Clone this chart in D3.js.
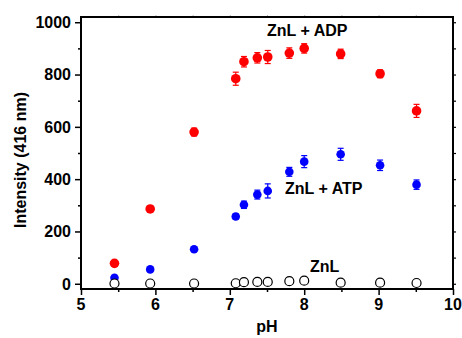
<!DOCTYPE html>
<html>
<head>
<meta charset="utf-8">
<script src="https://cdn.jsdelivr.net/npm/d3@7"></script>
<style>
  body { margin: 0; background: #fff; }
  text { font-family: Arial, "Liberation Sans", sans-serif; font-weight: bold; fill: #000; }
</style>
</head>
<body>
<svg id="chart" width="462" height="338"></svg>
<script>
// pH values (shared by all three series)
const phValues = [5.45, 5.93, 6.52, 7.08, 7.19, 7.37, 7.51, 7.80, 8.00, 8.49, 9.02, 9.51];

const adpValues = [78, 286, 580, 784, 849, 864, 867, 882, 900, 879, 803, 661];
const adpErrors = [8, 10, 15, 25, 20, 20, 25, 20, 18, 18, 15, 25];

const atpValues = [23, 55, 132, 257, 302, 341, 355, 428, 467, 495, 453, 379];
const atpErrors = [5, 6, 8, 10, 14, 17, 27, 17, 23, 23, 20, 18];

const znlValues = [1, 1, 1, 2, 6, 7, 7, 10, 12, 4, 4, 3];

const xTicks = [5, 6, 7, 8, 9, 10];
const yTicks = [0, 200, 400, 600, 800, 1000];

const svg = d3.select("#chart");

const x = d3.scaleLinear().domain([5, 10]).range([81, 453]);
const y = d3.scaleLinear().domain([-20, 1020]).range([289, 17]);

// bottom axis
const xAxis = svg.append("g")
  .attr("transform", "translate(0,289)")
  .call(d3.axisBottom(x).tickValues(d3.range(5, 10.01, 0.5)).tickSize(5).tickFormat(""));
xAxis.select(".domain").remove();
xAxis.selectAll(".tick line").attr("stroke-width", 1.5)
  .attr("y2", d => (d % 1 === 0 ? 6 : 3));

xAxis.selectAll(".lbl")
  .data(xTicks)
  .join("text")
  .attr("x", d => x(d))
  .attr("y", 21)
  .attr("text-anchor", "middle")
  .attr("font-size", 16)
  .text(d => d);

// left axis
const yAxis = svg.append("g")
  .attr("transform", "translate(81,0)")
  .call(d3.axisLeft(y).tickValues(d3.range(0, 1001, 100)).tickSize(6).tickFormat(""));
yAxis.select(".domain").remove();
yAxis.selectAll(".tick line").attr("stroke-width", 1.5)
  .attr("x2", d => (d % 200 === 0 ? -6 : -3));

yAxis.selectAll(".lbl")
  .data(yTicks)
  .join("text")
  .attr("x", -10)
  .attr("y", d => y(d))
  .attr("dy", "0.36em")
  .attr("text-anchor", "end")
  .attr("font-size", 16)
  .text(d => d);

// right axis ticks
const rAxis = svg.append("g")
  .attr("transform", "translate(453,0)")
  .call(d3.axisRight(y).tickValues(d3.range(0, 1001, 100)).tickSize(3).tickFormat(""));
rAxis.select(".domain").remove();
rAxis.selectAll(".tick line").attr("stroke-width", 1.2);

// top axis ticks (faint)
const tAxis = svg.append("g")
  .attr("transform", "translate(0,17)")
  .call(d3.axisTop(x).tickValues(d3.range(5.5, 10, 0.5)).tickSize(2).tickFormat(""));
tAxis.select(".domain").remove();
tAxis.selectAll(".tick line").attr("stroke", "#bbb");

// frame
svg.append("rect")
  .attr("x", x(5))
  .attr("y", y(1020))
  .attr("width", x(10) - x(5))
  .attr("height", y(-20) - y(1020))
  .style("fill", "none")
  .style("stroke", "#000")
  .style("stroke-width", 2);

// axis titles
svg.append("text")
  .attr("transform", "translate(26,160) rotate(-90)")
  .attr("text-anchor", "middle")
  .attr("font-size", 16)
  .text("Intensity (416 nm)");

svg.append("text")
  .attr("x", 267)
  .attr("y", 332)
  .attr("text-anchor", "middle")
  .attr("font-size", 16)
  .text("pH");

// series
function drawSeries(values, errors, color, r) {
  const g = svg.append("g");
  const pts = phValues.map((p, i) => ({ p, v: values[i], e: errors ? errors[i] : 0 }));
  if (errors) {
    const eb = g.selectAll(".err").data(pts).join("g").attr("stroke", color).attr("stroke-width", 1.2);
    eb.append("line")
      .attr("x1", d => x(d.p)).attr("x2", d => x(d.p))
      .attr("y1", d => y(d.v - d.e)).attr("y2", d => y(d.v + d.e));
    eb.append("line")
      .attr("x1", d => x(d.p) - 3).attr("x2", d => x(d.p) + 3)
      .attr("y1", d => y(d.v - d.e)).attr("y2", d => y(d.v - d.e));
    eb.append("line")
      .attr("x1", d => x(d.p) - 3).attr("x2", d => x(d.p) + 3)
      .attr("y1", d => y(d.v + d.e)).attr("y2", d => y(d.v + d.e));
  }
  g.selectAll("circle").data(pts).join("circle")
    .attr("cx", d => x(d.p))
    .attr("cy", d => y(d.v))
    .attr("r", r)
    .attr("fill", color);
}

drawSeries(adpValues, adpErrors, "#ff0000", 4.8);
drawSeries(atpValues, atpErrors, "#0000ff", 4.3);

svg.append("g").selectAll("circle")
  .data(phValues.map((p, i) => ({ p, v: znlValues[i] })))
  .join("circle")
  .attr("cx", d => x(d.p))
  .attr("cy", d => y(d.v))
  .attr("r", 4.5)
  .attr("fill", "#fff")
  .attr("stroke", "#000")
  .attr("stroke-width", 1.2);

// series labels
svg.append("text").attr("x", 267).attr("y", 36).attr("font-size", 16).text("ZnL + ADP");
svg.append("text").attr("x", 285).attr("y", 194).attr("font-size", 16).text("ZnL + ATP");
svg.append("text").attr("x", 310).attr("y", 272).attr("font-size", 16).text("ZnL");
</script>
</body>
</html>
